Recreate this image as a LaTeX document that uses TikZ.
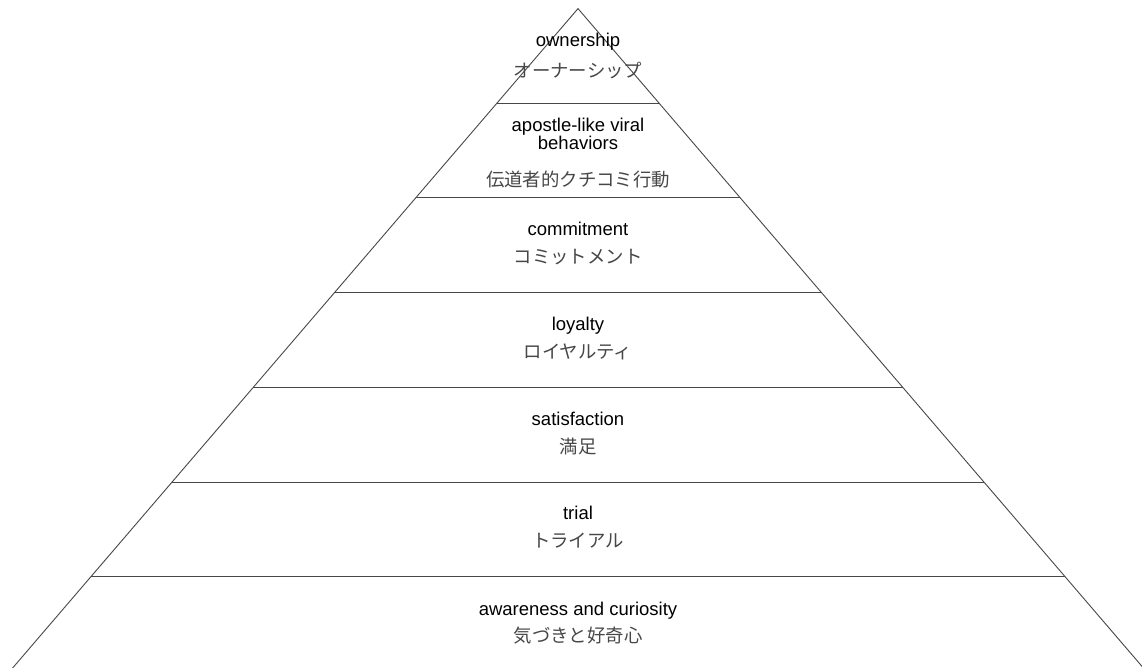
\documentclass[tikz,border=0pt]{standalone}
\usepackage{fontspec}
\setmainfont{Liberation Sans}
\newfontfamily\jpfont{Noto Sans CJK JP}
\usetikzlibrary{calc}

\tikzset{
  edge/.style={draw=black!72, line width=0.9pt},
  entext/.style={anchor=base, inner sep=0pt, align=center, text=black,
    font=\fontsize{18.5}{18.3}\selectfont},
  jptext/.style={anchor=base, inner sep=0pt, text=black!72,
    font=\jpfont\fontsize{18.4}{18.4}\selectfont},
}

\begin{document}
\begin{tikzpicture}[x=1pt, y=-1pt]
  \useasboundingbox (0,0) rectangle (1142,668);
  \fill[white] (0,0) rectangle (1142,668);
  \clip (0,0) rectangle (1142,668);

  % outline of the pyramid, seven equal tiers
  \coordinate (apex) at (578,8.6);
  \coordinate (bl)   at (578-568.2,671.3);
  \coordinate (br)   at (578+568.2,671.3);
  \draw[edge] (bl) -- (apex) -- (br);

  % tier boundaries
  \foreach \k in {1,...,6} {
    \coordinate (l\k) at ($(apex)!\k/7!(bl)$);
    \coordinate (r\k) at ($(apex)!\k/7!(br)$);
    \draw[edge] (l\k) -- (r\k);
  }

  % tier labels, top to bottom (a two-line label sits on its last baseline)
  \node[entext] (own)  at (578,46.8)  {ownership};
  \node[jptext] (ownj) at (578,77.5)  {オーナーシップ};

  \node[entext] (apo)  at (578,150.0) {apostle-like viral\\behaviors};
  \node[jptext] (apoj) at (578,187.0) {伝道者的クチコミ行動};

  \node[entext] (com)  at (578,235.8) {commitment};
  \node[jptext] (comj) at (578,263.7) {コミットメント};

  \node[entext] (loy)  at (578,330.5) {loyalty};
  \node[jptext] (loyj) at (578,358.4) {ロイヤルティ};

  \node[entext] (sat)  at (578,425.2) {satisfaction};
  \node[jptext] (satj) at (578,453.0) {満足};

  \node[entext] (tri)  at (578,519.8) {trial};
  \node[jptext] (trij) at (578,547.7) {トライアル};

  \node[entext] (awa)  at (578,615.5) {awareness and curiosity};
  \node[jptext] (awaj) at (578,642.2) {気づきと好奇心};
\end{tikzpicture}
\end{document}
